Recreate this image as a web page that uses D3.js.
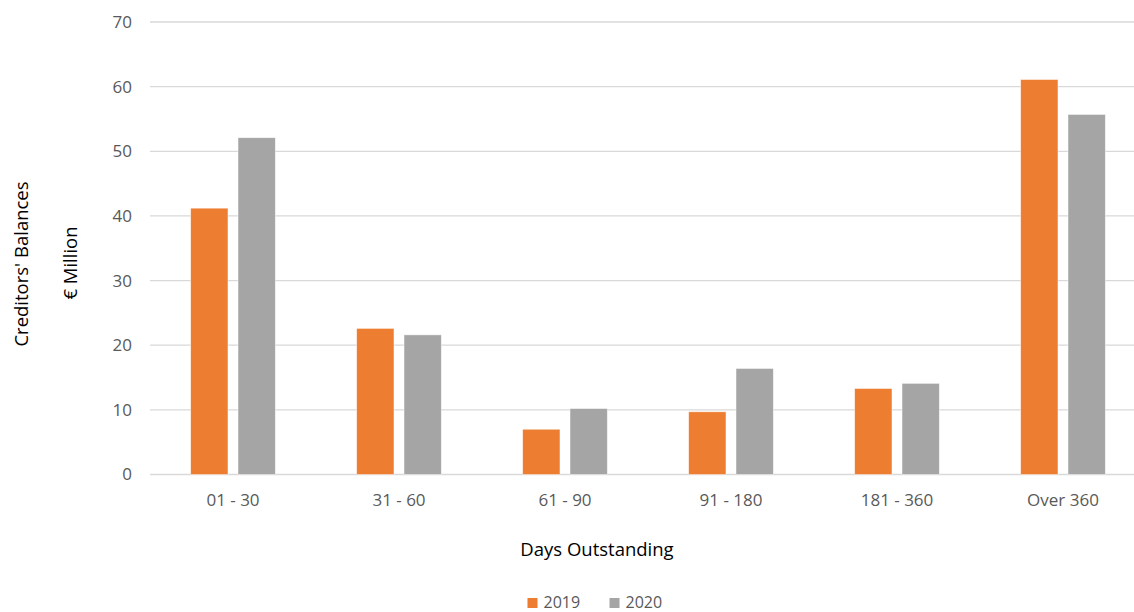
<!DOCTYPE html>
<html>
<head>
<meta charset="utf-8">
<script src="https://cdn.jsdelivr.net/npm/d3@7"></script>
<style>
  html, body { margin: 0; padding: 0; background: #fff; }
  svg { display: block; }
</style>
</head>
<body>
<svg id="chart" width="1134" height="612"></svg>
<script>
// Creditors' balances by days outstanding, € million
const categories = ["01 - 30", "31 - 60", "61 - 90", "91 - 180", "181 - 360", "Over 360"];
const seriesNames = ["2019", "2020"];
const values2019 = [41.2, 22.6, 7.0, 9.7, 13.3, 61.1];
const values2020 = [52.1, 21.6, 10.2, 16.4, 14.1, 55.7];
const yTicks = [0, 10, 20, 30, 40, 50, 60, 70];
const colors = ["#ED7D31", "#A5A5A5"];

const seriesValues = [values2019, values2020];
const rows = categories.map((c, i) => ({
  category: c,
  values: seriesNames.map((s, k) => ({ series: s, value: seriesValues[k][i] }))
}));

const svg = d3.select("#chart");
const plot = { left: 150, right: 1146, top: 22, bottom: 474.5 };
const FONT = "'Open Sans', sans-serif";

const x = d3.scaleBand()
  .domain(categories)
  .range([plot.left, plot.right])
  .paddingInner(0.49)
  .paddingOuter(0.245);

const xInner = d3.scaleBand()
  .domain(seriesNames)
  .range([0, x.bandwidth()])
  .paddingInner(0.212);

const y = d3.scaleLinear().domain([0, 70]).range([plot.bottom, plot.top]);

// Horizontal gridlines
svg.append("g")
  .selectAll("line")
  .data(yTicks)
  .join("line")
  .attr("x1", plot.left)
  .attr("x2", plot.right)
  .attr("y1", d => y(d))
  .attr("y2", d => y(d))
  .attr("stroke", "#D9D9D9")
  .attr("stroke-width", 1.3);

// Y axis tick labels
const yAxis = d3.axisLeft(y).tickValues(yTicks).tickSize(0).tickPadding(18);
const gy = svg.append("g").attr("transform", `translate(${plot.left},0)`).call(yAxis);
gy.select(".domain").remove();
gy.selectAll("text")
  .attr("font-family", FONT)
  .attr("font-size", 17)
  .attr("fill", "#595959");

// Bars
const groups = svg.append("g")
  .selectAll("g")
  .data(rows)
  .join("g")
  .attr("transform", d => `translate(${x(d.category)},0)`);

groups.selectAll("rect")
  .data(d => d.values)
  .join("rect")
  .attr("x", d => xInner(d.series))
  .attr("width", xInner.bandwidth())
  .attr("y", d => y(d.value))
  .attr("height", d => y(0) - y(d.value))
  .attr("fill", (d, i) => colors[i])
  .attr("stroke", "#fff")
  .attr("stroke-opacity", 0.6)
  .attr("stroke-width", 0.75);

// X axis labels
const xAxis = d3.axisBottom(x).tickSize(0).tickPadding(19);
const gx = svg.append("g").attr("transform", `translate(0,${plot.bottom})`).call(xAxis);
gx.select(".domain").remove();
gx.selectAll("text")
  .attr("font-family", FONT)
  .attr("font-size", 17)
  .attr("fill", "#595959");

// Axis titles
svg.append("text")
  .attr("x", 597)
  .attr("y", 556)
  .attr("text-anchor", "middle")
  .attr("font-family", FONT)
  .attr("font-size", 18.5)
  .attr("fill", "#000")
  .text("Days Outstanding");

svg.append("text")
  .attr("transform", "translate(28,264) rotate(-90)")
  .attr("text-anchor", "middle")
  .attr("font-family", FONT)
  .attr("font-size", 18.5)
  .attr("fill", "#000")
  .text("Creditors' Balances");

svg.append("text")
  .attr("transform", "translate(77,263) rotate(-90)")
  .attr("text-anchor", "middle")
  .attr("font-family", FONT)
  .attr("font-size", 18.5)
  .attr("fill", "#000")
  .text("€ Million");

// Legend
const legend = svg.append("g").attr("transform", "translate(527.5,598)");
const legendItems = legend.selectAll("g")
  .data(seriesNames)
  .join("g")
  .attr("transform", (d, i) => `translate(${i * 82},0)`);
legendItems.append("rect")
  .attr("width", 10)
  .attr("height", 10)
  .attr("fill", (d, i) => colors[i]);
legendItems.append("text")
  .attr("x", 16)
  .attr("y", 10)
  .attr("font-family", FONT)
  .attr("font-size", 16)
  .attr("fill", "#595959")
  .text(d => d);
</script>
</body>
</html>
